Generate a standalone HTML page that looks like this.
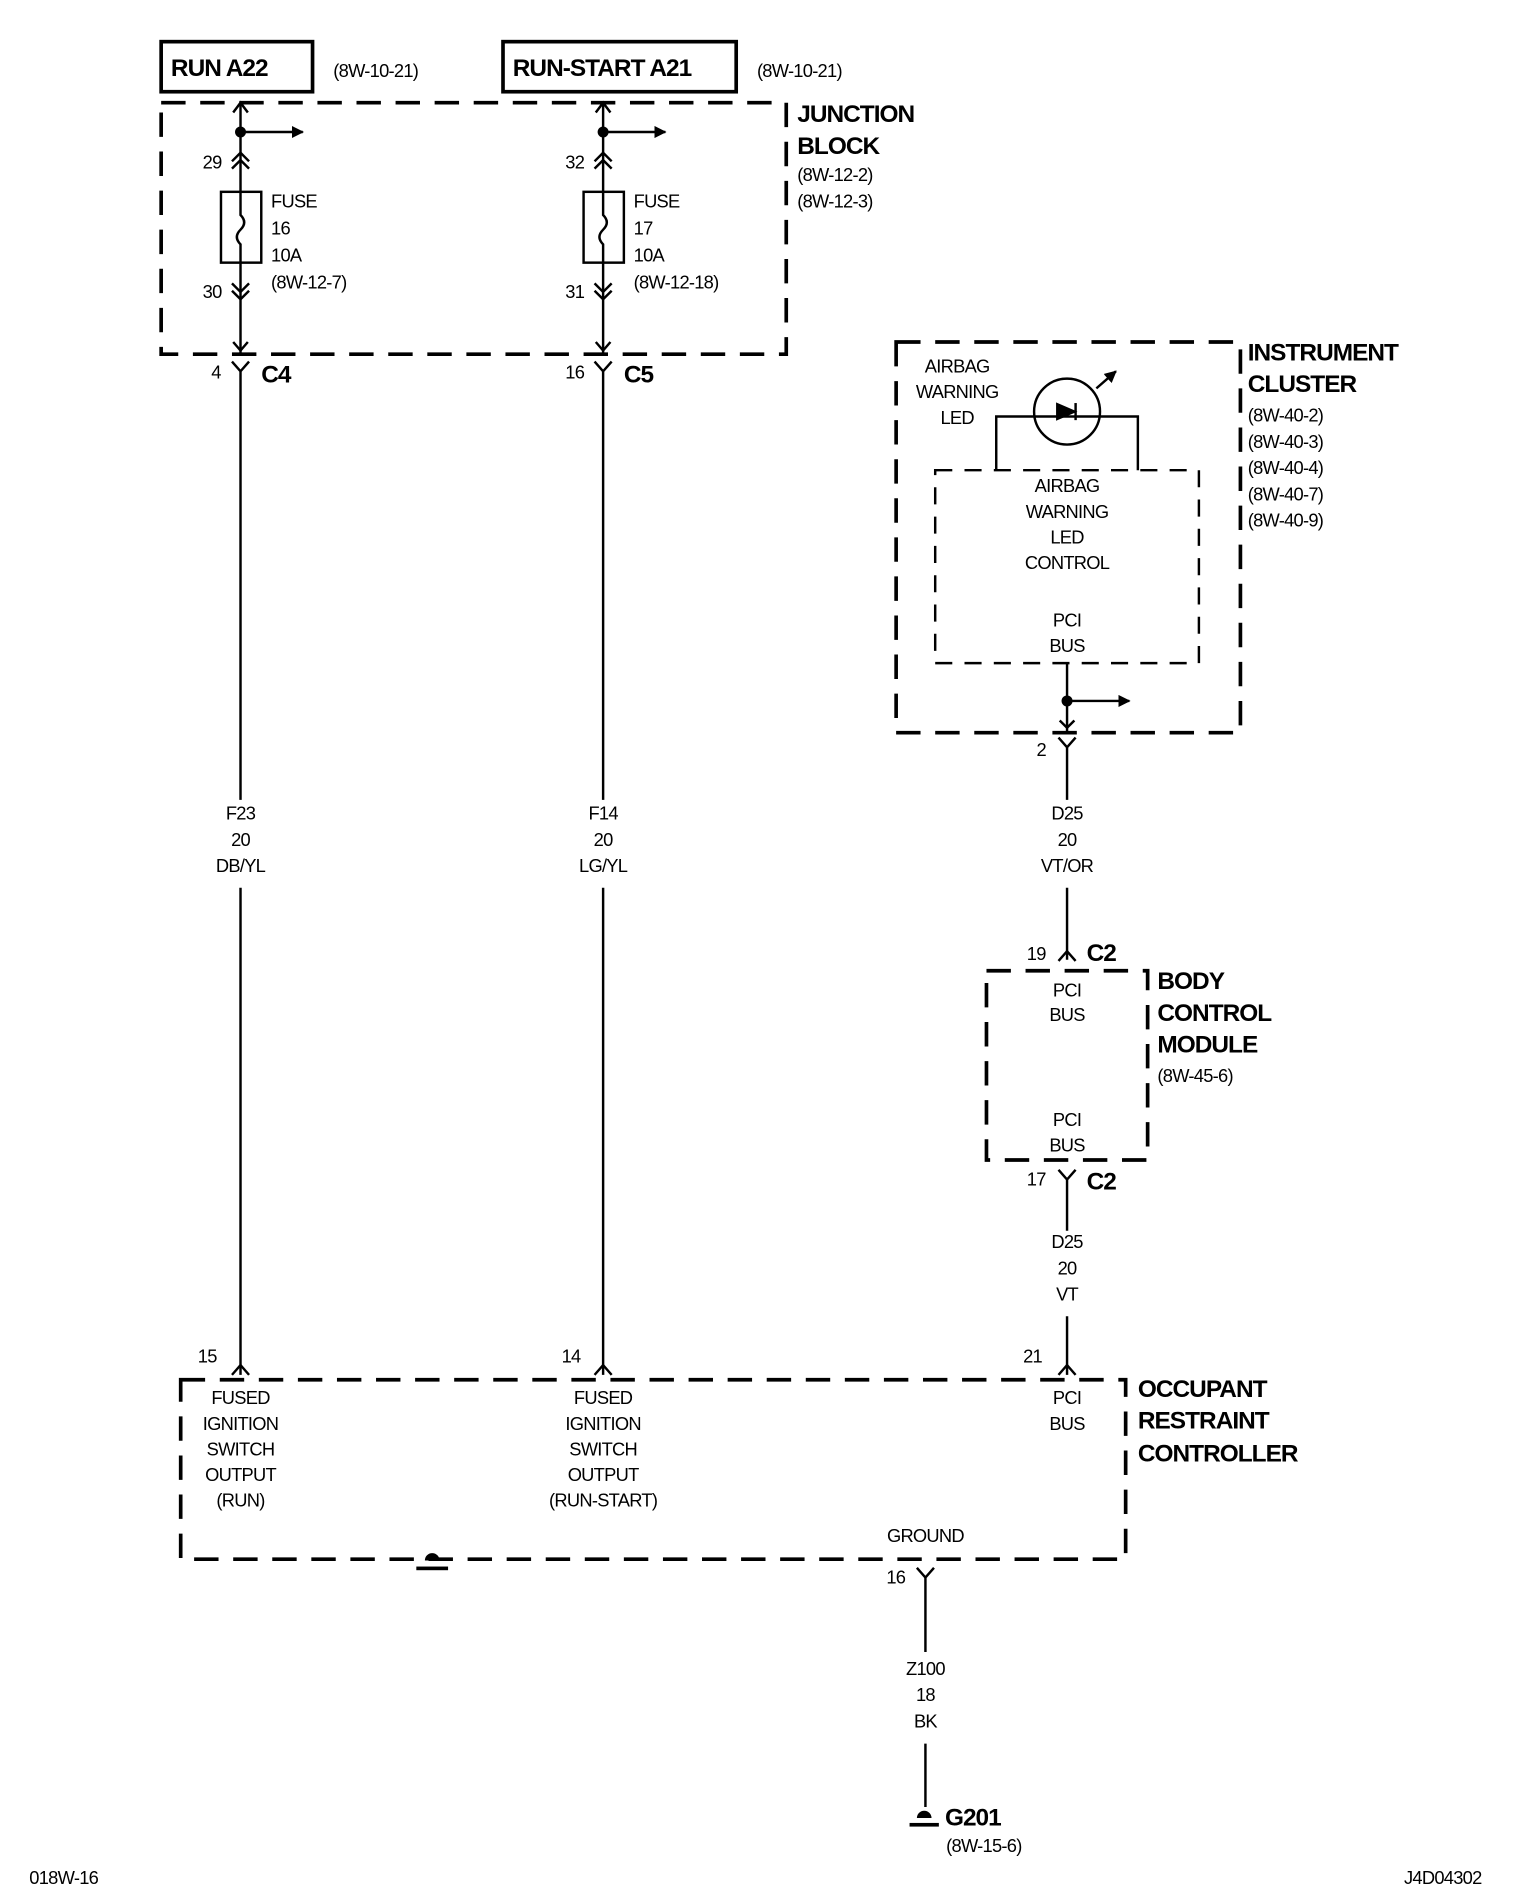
<!DOCTYPE html>
<html><head><meta charset="utf-8"><style>
html,body{margin:0;padding:0;background:#fff;}
svg{display:block;}
text{font-family:"Liberation Sans",Arial,sans-serif;fill:#000;}
.t{font-size:15px;letter-spacing:-0.6px;}
.tc{font-size:15px;letter-spacing:-0.6px;text-anchor:middle;}
.b{font-size:20px;font-weight:bold;letter-spacing:-0.8px;}
</style></head><body>
<svg width="1520" height="1900" viewBox="0 0 1245 1556" xmlns="http://www.w3.org/2000/svg">
<defs>
<marker id="ah" markerWidth="10" markerHeight="10" refX="9" refY="5" orient="auto" markerUnits="userSpaceOnUse"><path d="M0,0 L10,5 L0,10 z" fill="#000"/></marker>
</defs>
<g stroke="#000" fill="none" stroke-width="2">
<!-- top boxes -->
<rect x="132" y="34" width="124" height="41" stroke-width="3"/>
<rect x="412" y="34" width="191" height="41" stroke-width="3"/>
<!-- dashed modules -->
<rect x="132" y="84" width="512" height="206" stroke-width="3" stroke-dasharray="20,12"/>
<rect x="734" y="280" width="282" height="320" stroke-width="3" stroke-dasharray="20,12"/>
<rect x="766" y="385" width="216" height="158" stroke-width="2" stroke-dasharray="14,10"/>
<rect x="808" y="795" width="132" height="155" stroke-width="3" stroke-dasharray="20,12"/>
<rect x="148" y="1130" width="774" height="147" stroke-width="3" stroke-dasharray="20,12"/>

<!-- wire 1 -->
<path d="M197,84 V290"/>
<path d="M191,92 L197,84 L203,92"/>
<path d="M197,108 H248" marker-end="url(#ah)"/>
<path d="M190,132 L197,125 L204,132 M190,138 L197,131 L204,138"/>
<rect x="181" y="157" width="33" height="58" fill="#fff"/>
<path d="M197,157 V176 Q203,182 197,188 Q191,194 197,200 V215"/>
<path d="M190,232 L197,239 L204,232 M190,238 L197,245 L204,238"/>
<path d="M191,280 L197,287 L203,280"/>
<path d="M190,296 L197,304 L204,296 M197,304 V655 M197,727 V1126"/>
<path d="M190,1126 L197,1118 L204,1126"/>

<!-- wire 2 -->
<path d="M494,84 V290"/>
<path d="M488,92 L494,84 L500,92"/>
<path d="M494,108 H545" marker-end="url(#ah)"/>
<path d="M487,132 L494,125 L501,132 M487,138 L494,131 L501,138"/>
<rect x="478" y="157" width="33" height="58" fill="#fff"/>
<path d="M494,157 V176 Q500,182 494,188 Q488,194 494,200 V215"/>
<path d="M487,232 L494,239 L501,232 M487,238 L494,245 L501,238"/>
<path d="M488,280 L494,287 L500,280"/>
<path d="M487,296 L494,304 L501,296 M494,304 V655 M494,727 V1126"/>
<path d="M487,1126 L494,1118 L501,1126"/>

<!-- LED -->
<circle cx="874" cy="337" r="27"/>
<path d="M816,385 V341 H932 V385"/>
<path d="M866,331 L880,337 L866,343 z" fill="#000"/>
<path d="M881,330 V344"/>
<path d="M898,318 L914,304" marker-end="url(#ah)"/>

<!-- wire 3 -->
<path d="M874,543 V600"/>
<path d="M874,574 H925" marker-end="url(#ah)"/>
<path d="M868,590 L874,596 L880,590"/>
<path d="M867,604 L874,612 L881,604 M874,612 V655 M874,727 V786"/>
<path d="M867,787 L874,779 L881,787"/>
<path d="M867,958 L874,966 L881,958 M874,966 V1008 M874,1078 V1126"/>
<path d="M867,1126 L874,1118 L881,1126"/>

<!-- ground wire -->
<path d="M751,1284 L758,1292 L765,1284 M758,1292 V1353 M758,1428 V1480"/>
</g>
<!-- dots -->
<circle cx="197" cy="108" r="4.5"/>
<circle cx="494" cy="108" r="4.5"/>
<circle cx="874" cy="574" r="4.5"/>
<!-- ground symbols -->
<path d="M348,1278 a6,6 0 0 1 12,0 z" fill="#000"/>
<rect x="341" y="1283" width="26" height="3" fill="#000"/>
<path d="M751,1489 a6,6 0 0 1 12,0 z" fill="#000"/>
<rect x="745" y="1493" width="24" height="3" fill="#000"/>

<text class="b" x="140" y="62">RUN A22</text>
<text class="t" x="273" y="63">(8W-10-21)</text>
<text class="b" x="420" y="62">RUN-START A21</text>
<text class="t" x="620" y="63">(8W-10-21)</text>
<text class="b" x="653" y="100">JUNCTION</text>
<text class="b" x="653" y="126">BLOCK</text>
<text class="t" x="653" y="148">(8W-12-2)</text>
<text class="t" x="653" y="170">(8W-12-3)</text>

<text class="t" x="166" y="138">29</text>
<text class="t" x="166" y="244">30</text>
<text class="t" x="222" y="170">FUSE</text>
<text class="t" x="222" y="192">16</text>
<text class="t" x="222" y="214">10A</text>
<text class="t" x="222" y="236">(8W-12-7)</text>
<text class="t" x="463" y="138">32</text>
<text class="t" x="463" y="244">31</text>
<text class="t" x="519" y="170">FUSE</text>
<text class="t" x="519" y="192">17</text>
<text class="t" x="519" y="214">10A</text>
<text class="t" x="519" y="236">(8W-12-18)</text>

<text class="t" x="173" y="310">4</text>
<text class="b" x="214" y="313">C4</text>
<text class="t" x="463" y="310">16</text>
<text class="b" x="511" y="313">C5</text>

<text class="tc" x="197" y="671">F23</text>
<text class="tc" x="197" y="693">20</text>
<text class="tc" x="197" y="714">DB/YL</text>
<text class="tc" x="494" y="671">F14</text>
<text class="tc" x="494" y="693">20</text>
<text class="tc" x="494" y="714">LG/YL</text>

<text class="b" x="1022" y="295">INSTRUMENT</text>
<text class="b" x="1022" y="321">CLUSTER</text>
<text class="t" x="1022" y="345">(8W-40-2)</text>
<text class="t" x="1022" y="367">(8W-40-3)</text>
<text class="t" x="1022" y="388">(8W-40-4)</text>
<text class="t" x="1022" y="410">(8W-40-7)</text>
<text class="t" x="1022" y="431">(8W-40-9)</text>
<text class="tc" x="784" y="305">AIRBAG</text>
<text class="tc" x="784" y="326">WARNING</text>
<text class="tc" x="784" y="347">LED</text>
<text class="tc" x="874" y="403">AIRBAG</text>
<text class="tc" x="874" y="424">WARNING</text>
<text class="tc" x="874" y="445">LED</text>
<text class="tc" x="874" y="466">CONTROL</text>
<text class="tc" x="874" y="513">PCI</text>
<text class="tc" x="874" y="534">BUS</text>
<text class="t" x="849" y="619">2</text>
<text class="tc" x="874" y="671">D25</text>
<text class="tc" x="874" y="693">20</text>
<text class="tc" x="874" y="714">VT/OR</text>

<text class="t" x="841" y="786">19</text>
<text class="b" x="890" y="787">C2</text>
<text class="b" x="948" y="810">BODY</text>
<text class="b" x="948" y="836">CONTROL</text>
<text class="b" x="948" y="862">MODULE</text>
<text class="t" x="948" y="886">(8W-45-6)</text>
<text class="tc" x="874" y="816">PCI</text>
<text class="tc" x="874" y="836">BUS</text>
<text class="tc" x="874" y="922">PCI</text>
<text class="tc" x="874" y="943">BUS</text>
<text class="t" x="841" y="971">17</text>
<text class="b" x="890" y="974">C2</text>
<text class="tc" x="874" y="1022">D25</text>
<text class="tc" x="874" y="1044">20</text>
<text class="tc" x="874" y="1065">VT</text>

<text class="t" x="162" y="1116">15</text>
<text class="t" x="460" y="1116">14</text>
<text class="t" x="838" y="1116">21</text>
<text class="b" x="932" y="1144">OCCUPANT</text>
<text class="b" x="932" y="1170">RESTRAINT</text>
<text class="b" x="932" y="1197">CONTROLLER</text>
<text class="tc" x="197" y="1150">FUSED</text>
<text class="tc" x="197" y="1171">IGNITION</text>
<text class="tc" x="197" y="1192">SWITCH</text>
<text class="tc" x="197" y="1213">OUTPUT</text>
<text class="tc" x="197" y="1234">(RUN)</text>
<text class="tc" x="494" y="1150">FUSED</text>
<text class="tc" x="494" y="1171">IGNITION</text>
<text class="tc" x="494" y="1192">SWITCH</text>
<text class="tc" x="494" y="1213">OUTPUT</text>
<text class="tc" x="494" y="1234">(RUN-START)</text>
<text class="tc" x="874" y="1150">PCI</text>
<text class="tc" x="874" y="1171">BUS</text>
<text class="tc" x="758" y="1263">GROUND</text>
<text class="t" x="726" y="1297">16</text>
<text class="tc" x="758" y="1372">Z100</text>
<text class="tc" x="758" y="1393">18</text>
<text class="tc" x="758" y="1415">BK</text>
<text class="b" x="774" y="1495">G201</text>
<text class="t" x="775" y="1517">(8W-15-6)</text>
<text class="t" x="24" y="1543">018W-16</text>
<text class="t" x="1150" y="1543">J4D04302</text>
</svg>
</body></html>
